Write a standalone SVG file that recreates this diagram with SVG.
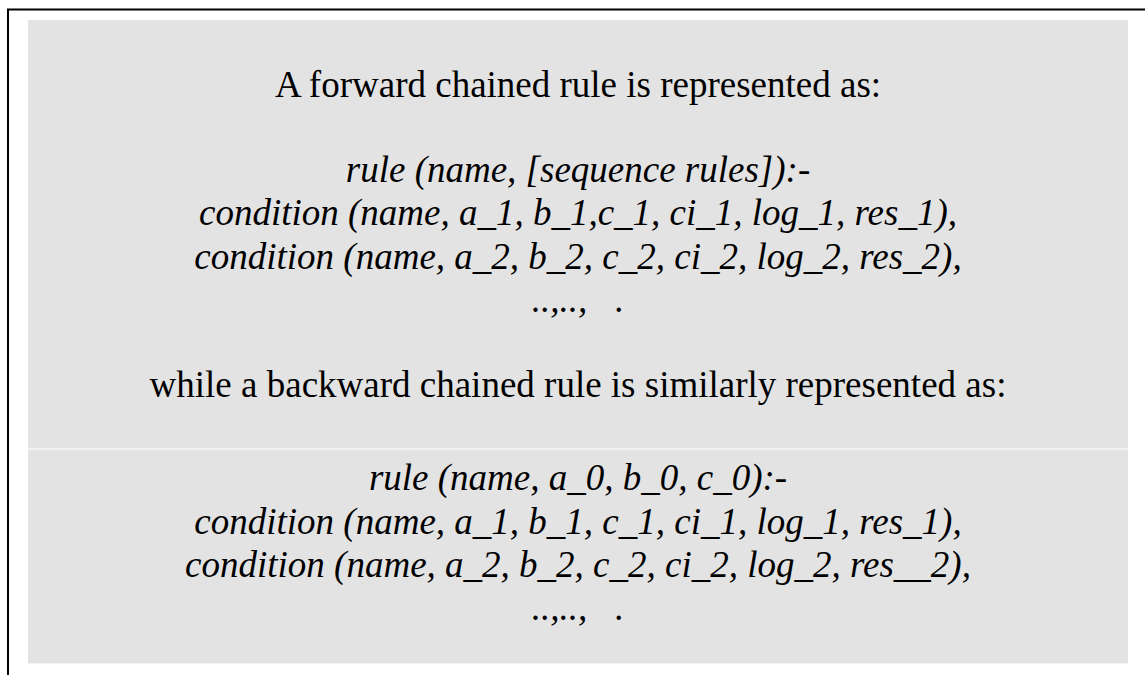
<svg xmlns="http://www.w3.org/2000/svg" width="1145" height="675" viewBox="0 0 1145 675">
  <style>
    .panel { fill: #e3e3e3; }
    .t { font-family: "Liberation Serif", "Times New Roman", serif; font-size: 37px; fill: #000; text-anchor: middle; white-space: pre; }
    .i { font-style: italic; }
    .frame { stroke: #000; stroke-width: 2; fill: none; }
  </style>
  <rect x="0" y="0" width="1145" height="675" fill="#ffffff"/>
  <path class="frame" d="M1145 9.5 H8 V675"/>
  <g id="forward-panel">
    <rect class="panel" x="28" y="20" width="1100" height="428.5"/>
    <text class="t" x="578" y="97">A forward chained rule is represented as:</text>
    <text class="t i" x="578" y="182">rule (name, [sequence rules]):-</text>
    <text class="t i" x="578" y="225">condition (name, a_1, b_1,c_1, ci_1, log_1, res_1),</text>
    <text class="t i" x="578" y="269">condition (name, a_2, b_2, c_2, ci_2, log_2, res_2),</text>
    <text class="t i" x="578" y="312" xml:space="preserve">..,..,   .</text>
    <text class="t" x="578" y="397">while a backward chained rule is similarly represented as:</text>
  </g>
  <g id="backward-panel">
    <rect class="panel" x="28" y="449.5" width="1100" height="214"/>
    <text class="t i" x="578" y="490">rule (name, a_0, b_0, c_0):-</text>
    <text class="t i" x="578" y="534">condition (name, a_1, b_1, c_1, ci_1, log_1, res_1),</text>
    <text class="t i" x="578" y="577">condition (name, a_2, b_2, c_2, ci_2, log_2, res__2),</text>
    <text class="t i" x="578" y="620" xml:space="preserve">..,..,   .</text>
  </g>
  <g id="connectors"></g>
</svg>
